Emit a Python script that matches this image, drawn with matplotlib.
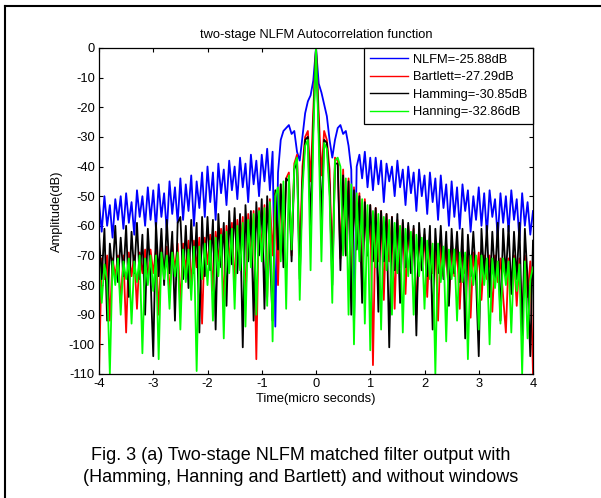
import numpy as np
import matplotlib.pyplot as plt
from matplotlib.lines import Line2D

plt.rcParams['font.family'] = ['Liberation Sans', 'DejaVu Sans']
plt.rcParams['axes.unicode_minus'] = False

# sample times (micro seconds), 0.05 us apart
t = np.round(np.arange(-4, 4.0001, 0.05), 2)

# NLFM (no window), dB
nlfm_left = [-52, -62, -50, -60, -53, -64, -51, -58, -50, -61,
             -49, -59, -52, -63, -48, -57, -50, -60, -47, -58,
             -48, -61, -46, -57, -49, -62, -45, -56, -47, -59,
             -44, -58, -46, -55, -43, -60, -45, -54, -42, -57,
             -40, -52, -42, -58, -39, -49, -41, -53, -38, -48,
             -40, -51, -37, -47, -39, -52, -36, -46, -38, -50,
             -36, -45, -34, -48, -35, -94, -42, -31, -28, -27,
             -26, -29, -28, -35, -38, -30, -22, -18, -16, -11]
nlfm_right = [-12, -15, -19, -23, -31, -37, -31, -27, -26, -29,
              -28, -33, -41, -94, -40, -36, -44, -35, -47, -37,
              -48, -37, -46, -38, -52, -39, -45, -40, -50, -38,
              -47, -41, -53, -40, -49, -42, -55, -41, -50, -43,
              -56, -42, -52, -44, -58, -43, -54, -46, -60, -45,
              -57, -47, -61, -46, -55, -48, -62, -50, -58, -47,
              -60, -49, -63, -48, -57, -51, -64, -49, -59, -50,
              -62, -48, -58, -51, -65, -49, -60, -52, -63, -55]

# Bartlett window
bart_left = [-110, -71, -78, -70, -92, -71, -77, -70, -86, -70,
             -96, -69, -77, -70, -88, -69, -76, -68, -78, -68,
             -76, -68, -90, -67, -76, -67, -84, -66, -75, -66,
             -87, -66, -75, -65, -80, -65, -74, -64, -93, -64,
             -73, -63, -82, -62, -72, -61, -88, -60, -72, -59,
             -81, -58, -70, -57, -86, -56, -72, -55, -105, -54,
             -68, -53, -84, -51, -70, -49, -80, -46, -66, -44,
             -42, -70, -39, -36, -72, -40, -30, -28, -45, -21]
bart_right = [-22, -43, -28, -31, -41, -74, -37, -38, -71, -41,
              -70, -44, -83, -47, -66, -49, -81, -51, -70, -53,
              -107, -54, -72, -55, -85, -56, -72, -57, -88, -58,
              -74, -59, -83, -60, -75, -61, -90, -62, -75, -63,
              -84, -64, -76, -65, -92, -65, -77, -66, -86, -67,
              -77, -67, -88, -68, -76, -68, -91, -69, -78, -69,
              -85, -70, -78, -70, -89, -70, -79, -71, -84, -96,
              -71, -80, -70, -87, -71, -93, -70, -84, -72, -110]

# Hamming window
hamm_left = [-63, -78, -61, -92, -66, -76, -60, -79, -64, -77,
             -60, -84, -62, -76, -59, -78, -63, -90, -61, -77,
             -104, -59, -77, -61, -80, -58, -76, -62, -92, -59,
             -57, -78, -60, -81, -58, -76, -59, -96, -57, -77,
             -57, -75, -58, -95, -56, -74, -59, -87, -55, -73,
             -54, -76, -56, -101, -53, -72, -55, -92, -52, -70,
             -51, -88, -50, -70, -92, -48, -68, -46, -74, -44,
             -45, -72, -41, -38, -78, -45, -31, -30, -60, -26]
hamm_right = [-27, -58, -31, -32, -46, -80, -39, -39, -75, -43,
              -70, -45, -90, -48, -68, -50, -86, -52, -70, -53,
              -72, -54, -89, -55, -72, -56, -101, -57, -75, -56,
              -86, -58, -74, -59, -76, -60, -97, -59, -75, -61,
              -77, -60, -95, -61, -76, -60, -78, -62, -87, -61,
              -76, -62, -79, -61, -98, -63, -77, -62, -78, -104,
              -61, -77, -60, -84, -62, -78, -59, -92, -61, -77,
              -60, -83, -62, -78, -59, -97, -61, -78, -104, -65]

# Hanning window
hann_left = [-72, -86, -73, -79, -110, -72, -80, -71, -90, -72,
             -78, -71, -93, -72, -79, -70, -103, -71, -80, -70,
             -82, -70, -105, -69, -78, -70, -88, -69, -77, -69,
             -95, -68, -79, -68, -85, -67, -109, -67, -78, -66,
             -80, -65, -92, -64, -77, -63, -98, -62, -76, -61,
             -88, -60, -75, -59, -94, -58, -74, -56, -90, -55,
             -72, -54, -87, -52, -99, -50, -47, -72, -45, -88,
             -43, -68, -40, -37, -85, -48, -33, -31, -75, -30]
hann_right = [-31, -72, -32, -34, -50, -86, -38, -37, -40, -70,
              -44, -90, -46, -100, -49, -72, -51, -93, -53, -102,
              -55, -74, -56, -95, -57, -75, -58, -90, -59, -76,
              -60, -96, -61, -77, -62, -90, -63, -77, -64, -88,
              -65, -78, -66, -110, -66, -79, -67, -99, -68, -78,
              -68, -92, -69, -79, -69, -105, -70, -80, -70, -95,
              -70, -80, -71, -100, -71, -81, -72, -93, -71, -80,
              -72, -96, -71, -82, -73, -110, -72, -98, -78, -74]

nlfm = nlfm_left + [0] + nlfm_right
bart = bart_left + [0] + bart_right
hamm = hamm_left + [0] + hamm_right
hann = hann_left + [0] + hann_right

labels = ['NLFM=-25.88dB', 'Bartlett=-27.29dB', 'Hamming=-30.85dB', 'Hanning=-32.86dB']

fs = 9.3

fig = plt.figure(figsize=(6.01, 4.98), dpi=100)
ax = fig.add_axes([99/601, 1-374/498, 434/601, 326/498])

ax.plot(t, nlfm, color='#0000ff', lw=1.3, label=labels[0])
ax.plot(t, bart, color='#ff0000', lw=1.3, label=labels[1])
ax.plot(t, hamm, color='#000000', lw=1.3, label=labels[2])
ax.plot(t, hann, color='#00ff00', lw=1.3, label=labels[3])

ax.set_xlim(-4, 4)
ax.set_ylim(-110, 0)
ax.set_xticks(np.arange(-4, 5, 1))
ax.set_yticks(np.arange(-110, 1, 10))
ax.tick_params(direction='in', top=True, right=True, length=3, width=0.8,
               labelsize=fs, pad=3)
for s in ax.spines.values():
    s.set_linewidth(0.9)

ax.set_title('two-stage NLFM Autocorrelation function', fontsize=fs, pad=7)
ax.set_xlabel('Time(micro seconds)', fontsize=fs, labelpad=2)
ax.set_ylabel('Amplitude(dB)', fontsize=fs, labelpad=4)

leg = ax.legend(loc='upper right', borderaxespad=0, fancybox=False,
                edgecolor='k', framealpha=1, fontsize=fs, handlelength=2.9,
                handletextpad=0.4, labelspacing=0.42, borderpad=0.45)
leg.get_frame().set_linewidth(0.9)
for ln in leg.get_lines():
    ln.set_linewidth(1.0)

# caption under the plot
fig.text(0.5, 1-455/498, 'Fig. 3 (a) Two-stage NLFM matched filter output with',
         ha='center', va='center', fontsize=13)
fig.text(0.5, 1-478/498, '(Hamming, Hanning and Bartlett) and without windows',
         ha='center', va='center', fontsize=13)

# outer frame (left and top edges only)
fig.add_artist(Line2D([5/601, 5/601], [0, 1-6/498], color='k', lw=1.5))
fig.add_artist(Line2D([5/601, 1], [1-6/498, 1-6/498], color='k', lw=1.5))

fig.savefig('out.png', dpi=100)
